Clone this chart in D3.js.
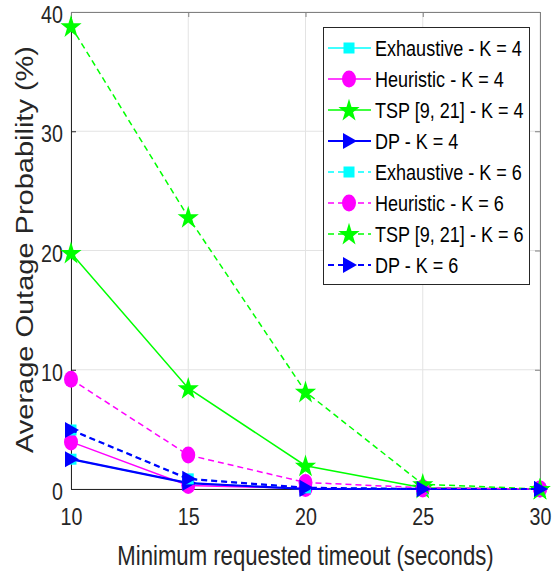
<!DOCTYPE html>
<html><head><meta charset="utf-8">
<script src="https://cdn.jsdelivr.net/npm/d3@7"></script>
<style>body{margin:0;background:#fff}svg{display:block}</style>
</head><body><svg id="c" width="553" height="578"></svg>
<script>
const timeouts = [10, 15, 20, 25, 30];
const exhaustiveK4 = [2.5, 0.5, 0.0, 0.0, 0.0];
const heuristicK4 = [3.95, 0.3, 0.05, 0.0, 0.0];
const tspK4 = [19.8, 8.45, 1.95, 0.1, 0.0];
const dpK4 = [2.5, 0.5, 0.0, 0.0, 0.0];
const exhaustiveK6 = [4.95, 0.85, 0.1, 0.0, 0.0];
const heuristicK6 = [9.2, 2.85, 0.55, 0.1, 0.0];
const tspK6 = [38.8, 22.8, 8.15, 0.4, 0.0];
const dpK6 = [4.95, 0.85, 0.1, 0.0, 0.0];
const xTicks = [10, 15, 20, 25, 30];
const yTicks = [0, 10, 20, 30, 40];
const seriesNames = ["Exhaustive - K = 4","Heuristic - K = 4","TSP [9, 21] - K = 4","DP - K = 4",
  "Exhaustive - K = 6","Heuristic - K = 6","TSP [9, 21] - K = 6","DP - K = 6"];

const series = [
  {name: seriesNames[0], values: exhaustiveK4, color: "#00ffff", marker: "square", dash: null, w: 1.5},
  {name: seriesNames[1], values: heuristicK4, color: "#ff00ff", marker: "circle", dash: null, w: 1.5},
  {name: seriesNames[2], values: tspK4, color: "#00ff00", marker: "star", dash: null, w: 1.5},
  {name: seriesNames[3], values: dpK4, color: "#0000ff", marker: "triangle", dash: null, w: 2.2},
  {name: seriesNames[4], values: exhaustiveK6, color: "#00ffff", marker: "square", dash: "6,4", w: 1.5},
  {name: seriesNames[5], values: heuristicK6, color: "#ff00ff", marker: "circle", dash: "6,4", w: 1.5},
  {name: seriesNames[6], values: tspK6, color: "#00ff00", marker: "star", dash: "6,4", w: 1.5},
  {name: seriesNames[7], values: dpK6, color: "#0000ff", marker: "triangle", dash: "6,4", w: 2.2}
];

const FONT = "'Liberation Sans',Arial,sans-serif";
const SX = 0.82;
const L = 71, R = 540, T = 12, B = 489;
const x = d3.scaleLinear().domain([10, 30]).range([L, R]);
const y = d3.scaleLinear().domain([0, 40]).range([B, T]);
const svg = d3.select("#c");

function narrow(sel, dyExtra) {
  sel.each(function() {
    const t = d3.select(this);
    const tx = +t.attr("x") || 0, ty = (+t.attr("y") || 0) + (dyExtra || 0);
    t.attr("x", 0).attr("y", 0).attr("transform", `translate(${tx},${ty}) scale(${SX},1)`);
  });
}

// grid
svg.append("g").selectAll("line").data(xTicks).join("line")
  .attr("x1", d => x(d)).attr("x2", d => x(d)).attr("y1", T).attr("y2", B)
  .attr("stroke", "#e3e3e3").attr("stroke-width", 1);
svg.append("g").selectAll("line").data(yTicks).join("line")
  .attr("x1", L).attr("x2", R).attr("y1", d => y(d)).attr("y2", d => y(d))
  .attr("stroke", "#e3e3e3").attr("stroke-width", 1);

// axes
const ax = svg.append("g").attr("transform", `translate(0,${B})`)
  .call(d3.axisBottom(x).tickValues(xTicks).tickSize(-5).tickPadding(19).tickFormat(d3.format("d")));
const ay = svg.append("g").attr("transform", `translate(${L},0)`)
  .call(d3.axisLeft(y).tickValues(yTicks).tickSize(-5).tickPadding(8).tickFormat(d3.format("d")));
const at = svg.append("g").attr("transform", `translate(0,${T})`)
  .call(d3.axisTop(x).tickValues(xTicks).tickSize(-5).tickFormat(""));
const ar = svg.append("g").attr("transform", `translate(${R},0)`)
  .call(d3.axisRight(y).tickValues(yTicks).tickSize(-5).tickFormat(""));
[ax, ay].forEach(g => {
  g.selectAll("path,line").attr("stroke", "#262626").attr("stroke-width", 1);
  g.selectAll("text").attr("font-family", FONT).attr("font-size", 24).attr("fill", "#262626");
});
narrow(ax.selectAll("text"), 0);
narrow(ay.selectAll("text"), 3);
[at, ar].forEach(g => g.selectAll("path,line").attr("stroke", "#808080").attr("stroke-width", 1));
ax.selectAll("text").attr("dy", "0.71em");

// marker drawing
const star = d3.symbol().type(d3.symbolStar);
function drawMarker(g, type, color, cx, cy) {
  if (type === "square") {
    g.append("rect").attr("x", cx - 5.5).attr("y", cy - 5.5).attr("width", 11).attr("height", 11).attr("fill", color);
  } else if (type === "circle") {
    g.append("ellipse").attr("cx", cx).attr("cy", cy).attr("rx", 7).attr("ry", 8.5).attr("fill", color);
  } else if (type === "star") {
    g.append("path").attr("d", star.size(165)()).attr("transform", `translate(${cx},${cy + 0.8}) scale(${SX + 0.1},1)`).attr("fill", color);
  } else {
    g.append("path").attr("d", `M${cx - 6},${cy - 8}L${cx + 8},${cy}L${cx - 6},${cy + 8}Z`).attr("fill", color);
  }
}

const line = d3.line().x((d, i) => x(timeouts[i])).y(d => y(d));
series.forEach(s => {
  const g = svg.append("g");
  g.append("path").datum(s.values).attr("d", line).attr("fill", "none")
    .attr("stroke", s.color).attr("stroke-width", s.w).attr("stroke-dasharray", s.dash);
  s.values.forEach((v, i) => drawMarker(g, s.marker, s.color, x(timeouts[i]), y(v)));
});

// labels
svg.append("text").attr("transform", `translate(${(L + R) / 2},565) scale(${SX},1)`).attr("text-anchor", "middle")
  .attr("font-family", FONT).attr("font-size", 27).attr("fill", "#262626")
  .text("Minimum requested timeout (seconds)");
svg.append("text").attr("transform", `translate(33,${(T + B) / 2 - 1}) scale(${SX},1) rotate(-90)`).attr("text-anchor", "middle")
  .attr("font-family", FONT).attr("font-size", 29).attr("fill", "#262626")
  .text("Average Outage Probability (%)");

// legend
const lg = svg.append("g");
lg.append("rect").attr("x", 323.5).attr("y", 27.5).attr("width", 206).attr("height", 257)
  .attr("fill", "#fff").attr("stroke", "#262626").attr("stroke-width", 1);
series.forEach((s, i) => {
  const cy = 48 + i * 31;
  lg.append("line").attr("x1", 328).attr("x2", 371).attr("y1", cy).attr("y2", cy)
    .attr("stroke", s.color).attr("stroke-width", s.w).attr("stroke-dasharray", s.dash);
  drawMarker(lg, s.marker, s.color, 349, cy);
  lg.append("text").attr("transform", `translate(375,${cy + 8}) scale(${SX},1)`)
    .attr("font-family", FONT).attr("font-size", 22).attr("fill", "#000").text(s.name);
});
</script></body></html>
